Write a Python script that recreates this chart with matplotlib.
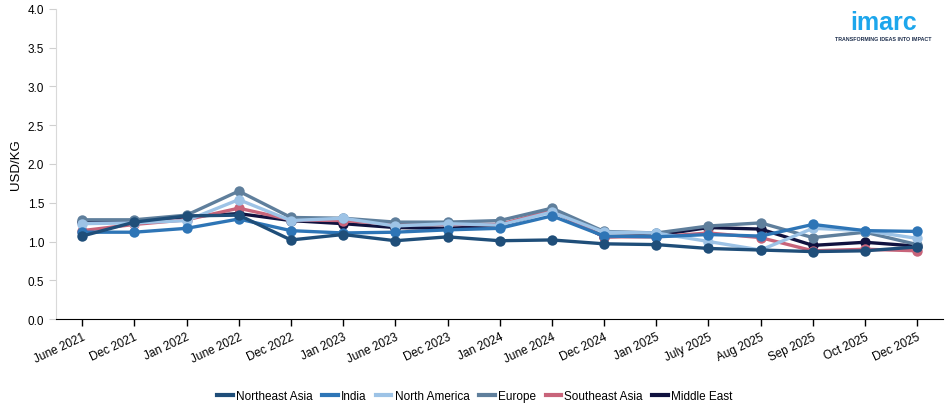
import matplotlib
matplotlib.use("Agg")
import matplotlib.pyplot as plt
from matplotlib.lines import Line2D

plt.rcParams["font.family"] = ["Liberation Sans", "DejaVu Sans"]

categories = ["June 2021", "Dec 2021", "Jan 2022", "June 2022", "Dec 2022", "Jan 2023",
              "June 2023", "Dec 2023", "Jan 2024", "June 2024", "Dec 2024", "Jan 2025",
              "July 2025", "Aug 2025", "Sep 2025", "Oct 2025", "Dec 2025"]

northeast_asia = [1.07, 1.25, 1.33, 1.34, 1.02, 1.09, 1.01, 1.06, 1.01, 1.02, 0.97, 0.96, 0.91, 0.89, 0.87, 0.88, 0.93]
india          = [1.12, 1.12, 1.17, 1.29, 1.14, 1.11, 1.12, 1.15, 1.17, 1.33, 1.07, 1.06, 1.09, 1.07, 1.22, 1.14, 1.13]
north_america  = [1.23, 1.24, 1.27, 1.54, 1.27, 1.30, 1.20, 1.23, 1.21, 1.38, 1.12, 1.11, 1.00, 0.89, 1.17, 1.14, 1.04]
europe         = [1.28, 1.28, 1.34, 1.65, 1.31, 1.30, 1.25, 1.25, 1.27, 1.43, 1.13, 1.11, 1.20, 1.24, 1.05, 1.12, 0.96]
southeast_asia = [1.14, 1.22, 1.28, 1.43, 1.28, 1.27, 1.22, 1.22, 1.22, 1.40, 1.06, 1.06, 1.11, 1.05, 0.88, 0.90, 0.88]
middle_east    = [1.25, 1.25, 1.32, 1.36, 1.27, 1.23, 1.18, 1.17, 1.20, 1.40, 1.06, 1.08, 1.18, 1.16, 0.95, 0.99, 0.94]

series = [
    ("Northeast Asia", northeast_asia, "#1f4e79"),
    ("India", india, "#2e75b6"),
    ("North America", north_america, "#9dc3e6"),
    ("Europe", europe, "#5f7f9c"),
    ("Southeast Asia", southeast_asia, "#c8647a"),
    ("Middle East", middle_east, "#10123f"),
]

fig = plt.figure(figsize=(9.5, 4.14), dpi=100)
ax = fig.add_axes([0.059, 0.227, 0.934, 0.749])

x = list(range(len(categories)))
n = len(series)
for i, (name, vals, col) in enumerate(series):
    ax.plot(x, vals, color=col, lw=2.4, marker="o", markersize=7.5,
            markeredgewidth=0, zorder=10 + (n - i), solid_capstyle="round")

ax.set_xlim(-0.5, len(categories) - 0.5)
ax.set_ylim(0, 4.0)
yt = [0, 0.5, 1.0, 1.5, 2.0, 2.5, 3.0, 3.5, 4.0]
ax.set_yticks(yt)
ax.set_yticklabels([f"{v:.1f}" for v in yt], fontsize=8.5)
ax.set_xticks(x)
ax.set_xticklabels(categories, rotation=25, ha="right", rotation_mode="anchor", fontsize=8.5)
ax.set_ylabel("USD/KG", fontsize=9.5)

for s in ["top", "right"]:
    ax.spines[s].set_visible(False)
ax.spines["left"].set_color("#d9d9d9")
ax.spines["bottom"].set_color("black")
ax.tick_params(axis="y", colors="#d0d0d0", labelcolor="black", length=5, width=0.8)
ax.tick_params(axis="x", length=5, width=1, color="black")

handles = [Line2D([0], [0], color=c, lw=3) for _, _, c in series]
labels = [nm for nm, _, _ in series]
fig.legend(handles, labels, loc="center", bbox_to_anchor=(0.5, 0.04), ncol=6,
           frameon=False, fontsize=8.5, handlelength=1.3, handletextpad=0.3, columnspacing=0.8)

# logo
fig.text(0.93, 0.945, "imarc", color="#1ca6ec", fontsize=18, fontweight="bold",
         ha="center", va="center")
fig.text(0.93, 0.905, "TRANSFORMING IDEAS INTO IMPACT", color="#1a2b4a", fontsize=3.8,
         fontweight="bold", ha="center", va="center")

fig.savefig("out.png", dpi=100)
